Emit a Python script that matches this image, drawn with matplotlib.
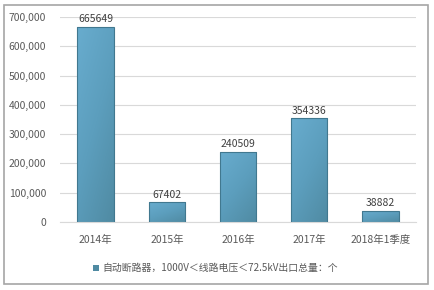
import matplotlib
matplotlib.use("Agg")
import matplotlib.pyplot as plt
import numpy as np
from matplotlib.patches import Rectangle
from matplotlib.colors import LinearSegmentedColormap

plt.rcParams['font.family'] = ['Noto Sans CJK SC', 'DejaVu Sans']

categories = ['2014年', '2015年', '2016年', '2017年', '2018年1季度']
values = [665649, 67402, 240509, 354336, 38882]
legend_label = '自动断路器，1000V＜线路电压＜72.5kV出口总量：个'
yticks = [0, 100000, 200000, 300000, 400000, 500000, 600000, 700000]

fig = plt.figure(figsize=(4.34, 2.90), dpi=100)
# outer frame
fig.patches.append(Rectangle((4/434, 1-284/290), 424/434, 279/290, transform=fig.transFigure,
                             fill=False, edgecolor='#a6a6a6', linewidth=1.2))

ax = fig.add_axes([60/434, 1-222/290, 356/434, 205/290])
x = np.arange(len(categories))
bw = 0.51
bars = ax.bar(x, values, width=bw, color='none', edgecolor='#41788f', linewidth=0.8, zorder=3)

# gradient fill for bars
cmap = LinearSegmentedColormap.from_list('g', ['#68acce', '#5c9ebd', '#508ba3'])
gy, gx = np.mgrid[0:1:50j, 0:1:50j]
grad = 0.6 * (1 - gy) + 0.4 * gx
for b in bars:
    x0, y0 = b.get_x(), b.get_y()
    im = ax.imshow(grad, cmap=cmap, origin='lower', aspect='auto',
                   extent=[x0, x0 + b.get_width(), y0, y0 + b.get_height()], zorder=2)
    im.set_clip_path(b)

for xi, v in zip(x, values):
    ax.text(xi, v + 9000, str(v), ha='center', va='bottom', fontsize=7.5, color='#404040')

ax.set_xlim(-0.5, len(categories) - 0.5)
ax.set_ylim(0, 700000)
ax.set_yticks(yticks)
ax.set_yticklabels([f'{t:,}' for t in yticks])
ax.set_xticks(x)
ax.set_xticklabels(categories)
ax.tick_params(axis='both', length=0, labelsize=7.5, labelcolor='#595959')
ax.tick_params(axis='y', pad=10)
ax.tick_params(axis='x', pad=9)
ax.grid(axis='y', color='#d9d9d9', linewidth=0.8, zorder=0)
for s in ['top', 'right', 'left']:
    ax.spines[s].set_visible(False)
ax.spines['bottom'].set_color('#d9d9d9')

fig.patches.append(Rectangle((93/434, 1-271/290), 6/434, 6/290, transform=fig.transFigure,
                             facecolor='#4f8aa2', edgecolor='none'))
fig.text(102/434, 1-268/290, legend_label, ha='left', va='center', fontsize=7.1, color='#595959')

fig.savefig('out.png', dpi=100)
